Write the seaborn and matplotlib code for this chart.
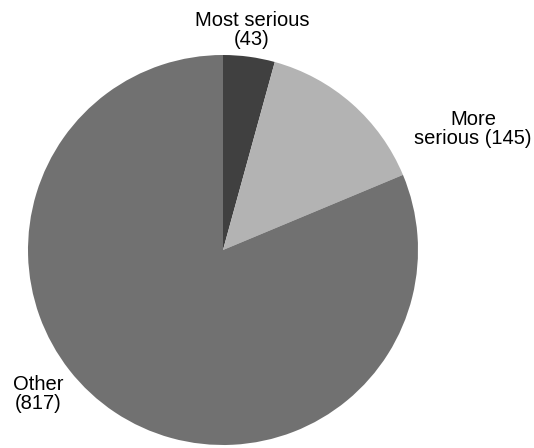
import matplotlib
matplotlib.use("Agg")
import matplotlib.pyplot as plt
import seaborn as sns

categories = ["Most serious", "More serious", "Other"]
values = [43, 145, 817]
labels = ["Most serious\n(43)", "More\nserious (145)", "Other\n(817)"]
colors = ["#404040", "#b3b3b3", "#717171"]

sns.set_style("white")
plt.rcParams['font.family'] = ['Liberation Sans', 'DejaVu Sans']

W, H = 534, 448
fig = plt.figure(figsize=(W / 100, H / 100), dpi=100)
cx, cy, r = 223, 250, 195
ax = fig.add_axes([(cx - r) / W, 1 - (cy + r) / H, 2 * r / W, 2 * r / H])
ax.pie(values, colors=colors, startangle=90, counterclock=False,
       radius=1, wedgeprops=dict(linewidth=0))
ax.set_xlim(-1, 1)
ax.set_ylim(-1, 1)
ax.set_aspect("auto")
ax.axis("off")

label_pos = [(252, 30), (473, 129), (38, 394)]
for lab, (x, y) in zip(labels, label_pos):
    fig.text(x / W, 1 - y / H, lab, ha="center", va="center",
             multialignment="center", fontsize=14.5, color="#000000",
             linespacing=1.0)

fig.savefig("out.png", dpi=100)
